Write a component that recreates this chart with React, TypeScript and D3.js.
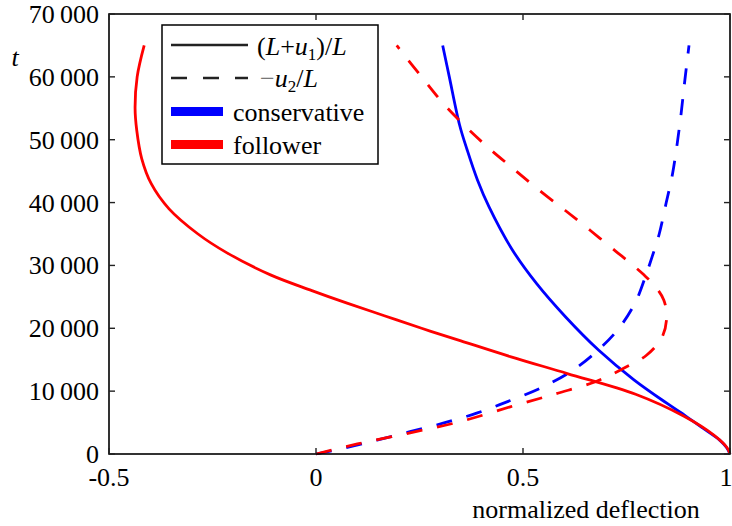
import React from 'react';
import * as d3 from 'd3';

const W = 732;
const H = 526;

const xTicks = [-0.5, 0, 0.5, 1];
const xTickLabels = ['-0.5', '0', '0.5', '1'];
const yTicks = [0, 10000, 20000, 30000, 40000, 50000, 60000, 70000];
const yTickLabels = ['0', '10\u2009000', '20\u2009000', '30\u2009000', '40\u2009000', '50\u2009000', '60\u2009000', '70\u2009000'];

// [t, normalized deflection]
const conservativeAxial: [number, number][] = [
  [0, 1.0], [1000, 0.992], [2200, 0.975], [4300, 0.93], [6000, 0.894], [8000, 0.849],
  [11800, 0.768], [16500, 0.683], [21800, 0.603], [27100, 0.533], [32500, 0.474],
  [39300, 0.418], [43600, 0.39], [48400, 0.365], [52300, 0.347], [60000, 0.322], [65000, 0.306],
];
const conservativeLateral: [number, number][] = [
  [0, 0], [900, 0.066], [2200, 0.147], [3550, 0.227], [4900, 0.307], [6500, 0.388],
  [8500, 0.469], [10700, 0.549], [13400, 0.622], [16800, 0.686], [20200, 0.734],
  [24200, 0.772], [28480, 0.797], [31400, 0.812], [35000, 0.829], [40000, 0.846],
  [44500, 0.861], [52600, 0.879], [59500, 0.891], [65000, 0.901],
];
const followerAxial: [number, number][] = [
  [0, 1.0], [1000, 0.993], [3000, 0.961], [6000, 0.889], [9500, 0.772], [12800, 0.607],
  [15500, 0.469], [18000, 0.35], [20000, 0.255], [22000, 0.165], [24000, 0.075],
  [26000, -0.01], [28500, -0.11], [32000, -0.215], [35000, -0.285], [39000, -0.355],
  [43000, -0.398], [47000, -0.421], [51500, -0.433], [55000, -0.437], [60000, -0.432],
  [65000, -0.415],
];
const followerLateral: [number, number][] = [
  [0, 0], [1600, 0.1], [3300, 0.222], [5100, 0.345], [7500, 0.469], [9600, 0.58],
  [11500, 0.675], [13600, 0.742], [15750, 0.799], [18600, 0.836], [21800, 0.847],
  [24500, 0.84], [26600, 0.82], [28500, 0.792], [30500, 0.757], [32200, 0.725],
  [35600, 0.662], [38700, 0.603], [41500, 0.548], [45200, 0.48], [49400, 0.405],
  [55200, 0.315], [60000, 0.255], [65000, 0.195],
];

const legendLabels = ['conservative', 'follower'];
const CSS = `svg.chart text { font-family: "Times New Roman", "Liberation Serif", Tinos, serif !important; font-size: 26px; }`;

export default function App() {
  const x = d3.scaleLinear().domain([-0.5, 1]).range([109, 730]);
  const y = d3.scaleLinear().domain([0, 70000]).range([454, 14]);
  const line = d3
    .line<[number, number]>()
    .x((d) => x(d[1]))
    .y((d) => y(d[0]))
    .curve(d3.curveCatmullRom.alpha(0.5));

  const [x0, x1] = x.range();
  const [y0, y1] = y.range();
  const tl = 6;
  const dash = '16 15';

  return (
    <svg className="chart" width={W} height={H} style={{ position: 'absolute', left: 0, top: 0 }}>
      <style>{CSS}</style>
      <rect x={0} y={0} width={W} height={H} fill="#fff" />
      <g fill="none" strokeWidth={2.8}>
        <path d={line(conservativeAxial) || ''} stroke="#0000ff" />
        <path d={line(conservativeLateral) || ''} stroke="#0000ff" strokeDasharray={dash} />
        <path d={line(followerAxial) || ''} stroke="#ff0000" />
        <path d={line(followerLateral) || ''} stroke="#ff0000" strokeDasharray={dash} />
      </g>
      <rect x={x0} y={y1} width={x1 - x0} height={y0 - y1} fill="none" stroke="#000" strokeWidth={1.6} />
      <g stroke="#222" strokeWidth={1.4}>
        {xTicks.map((t) => (
          <g key={'xt' + t}>
            <line x1={x(t)} x2={x(t)} y1={y0} y2={y0 - tl} />
            <line x1={x(t)} x2={x(t)} y1={y1} y2={y1 + tl} />
          </g>
        ))}
        {yTicks.map((t) => (
          <g key={'yt' + t}>
            <line x1={x0} x2={x0 + tl} y1={y(t)} y2={y(t)} />
            <line x1={x1} x2={x1 - tl} y1={y(t)} y2={y(t)} />
          </g>
        ))}
      </g>
      {xTicks.map((t, i) => (
        <text key={'xl' + t} x={t === 1 ? 726 : x(t)} y={486} textAnchor="middle">
          {xTickLabels[i]}
        </text>
      ))}
      {yTicks.map((t, i) => (
        <text key={'yl' + t} x={99} y={y(t) + 9} textAnchor="end">
          {yTickLabels[i]}
        </text>
      ))}
      <text x={586} y={518} textAnchor="middle">
        normalized deflection
      </text>
      <text x={15} y={66} fontStyle="italic" textAnchor="middle">
        t
      </text>
      <rect x={162} y={25} width={216} height={139} fill="#fff" stroke="#000" strokeWidth={1.5} />
      <line x1={171} x2={248} y1={45} y2={45} stroke="#222" strokeWidth={2.5} />
      <line x1={171} x2={248} y1={78} y2={78} stroke="#222" strokeWidth={2.5} strokeDasharray="16 16" />
      <rect x={171} y={107} width={52} height={9} fill="#0000ff" />
      <rect x={171} y={140} width={52} height={9} fill="#ff0000" />
      <text x={257} y={55}>
        (<tspan fontStyle="italic">L</tspan>+<tspan fontStyle="italic">u</tspan>
        <tspan fontSize={17} dy={5}>1</tspan>
        <tspan dy={-5}>)/</tspan>
        <tspan fontStyle="italic">L</tspan>
      </text>
      <text x={260} y={87}>
        <tspan fill="#777">−</tspan>
        <tspan fontStyle="italic">u</tspan>
        <tspan fontSize={17} dy={5}>2</tspan>
        <tspan dy={-5}>/</tspan>
        <tspan fontStyle="italic">L</tspan>
      </text>
      <text x={233} y={121}>
        {legendLabels[0]}
      </text>
      <text x={233} y={154}>
        {legendLabels[1]}
      </text>
    </svg>
  );
}
